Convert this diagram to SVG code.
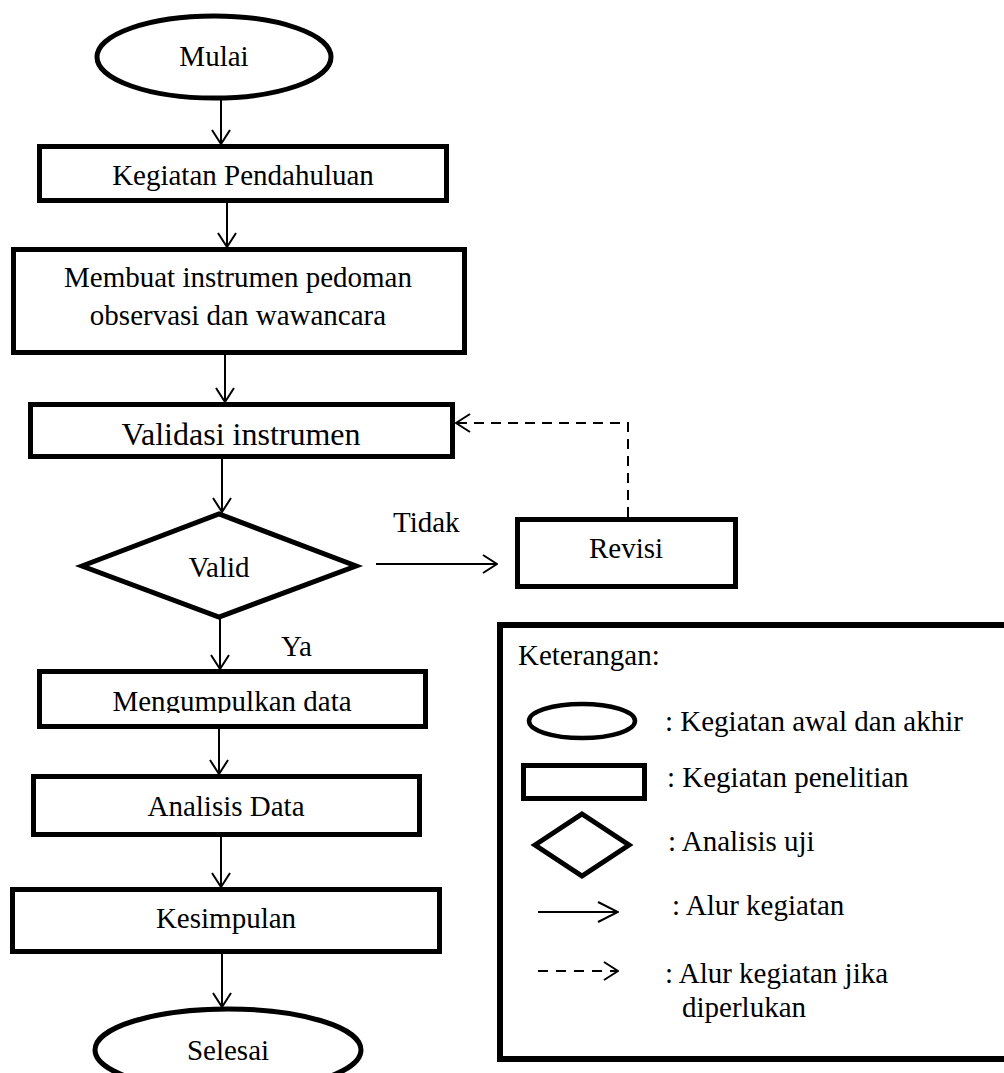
<svg xmlns="http://www.w3.org/2000/svg" width="1004" height="1073" viewBox="0 0 1004 1073">
<style>
text{font-family:"Liberation Serif","Times New Roman",serif;font-size:29px;fill:#000}
.c{text-anchor:middle}
.box{fill:#fff;stroke:#000;stroke-width:5}
.term{fill:#fff;stroke:#000;stroke-width:5}
.flow{fill:none;stroke:#000;stroke-width:2}
.dash{fill:none;stroke:#000;stroke-width:2;stroke-dasharray:10 7}
</style>
<defs>
<marker id="ah" viewBox="0 0 16 20" refX="15" refY="10" markerWidth="16" markerHeight="20" markerUnits="userSpaceOnUse" orient="auto">
<path d="M1,1 L15,10 L1,19" fill="none" stroke="#000" stroke-width="2"/>
</marker>
<marker id="ahl" viewBox="0 0 22 22" refX="21" refY="11" markerWidth="22" markerHeight="22" markerUnits="userSpaceOnUse" orient="auto">
<path d="M1,1 L21,11 L1,21" fill="none" stroke="#000" stroke-width="2"/>
</marker>
<clipPath id="clipM"><rect x="40" y="672" width="385" height="41"/></clipPath>
</defs>
<rect width="1004" height="1073" fill="#fff"/>

<g id="connectors">
<line class="flow" x1="221" y1="100" x2="221" y2="144" marker-end="url(#ah)"/>
<line class="flow" x1="227" y1="203" x2="227" y2="247" marker-end="url(#ah)"/>
<line class="flow" x1="225" y1="355" x2="225" y2="402" marker-end="url(#ah)"/>
<line class="flow" x1="222" y1="459" x2="222" y2="512" marker-end="url(#ah)"/>
<line class="flow" x1="220" y1="619" x2="220" y2="669" marker-end="url(#ah)"/>
<line class="flow" x1="219" y1="729" x2="219" y2="774" marker-end="url(#ah)"/>
<line class="flow" x1="221" y1="837" x2="221" y2="887" marker-end="url(#ah)"/>
<line class="flow" x1="222" y1="954" x2="222" y2="1007" marker-end="url(#ah)"/>
<line class="flow" x1="376" y1="564" x2="497" y2="564" marker-end="url(#ah)"/>
<path class="dash" d="M628,517 V423 H456" marker-end="url(#ah)"/>
<text x="393" y="532">Tidak</text>
<text x="281" y="656">Ya</text>
</g>

<g id="mulai">
<ellipse class="term" cx="214" cy="57" rx="117" ry="41"/>
<text class="c" x="214" y="66">Mulai</text>
</g>

<g id="pendahuluan">
<rect class="box" x="39.5" y="146.5" width="407" height="54"/>
<text class="c" x="243" y="185">Kegiatan Pendahuluan</text>
</g>

<g id="membuat">
<rect class="box" x="13.5" y="249.5" width="451" height="103"/>
<text class="c" x="238" y="287">Membuat instrumen pedoman</text>
<text class="c" x="238" y="325">observasi dan wawancara</text>
</g>

<g id="validasi">
<rect class="box" x="30.5" y="404.5" width="422" height="52"/>
<text class="c" x="241" y="445" style="font-size:32px">Validasi instrumen</text>
</g>

<g id="valid">
<polygon class="box" points="82,566 219,514 356,566 219,617"/>
<text class="c" x="219" y="577">Valid</text>
</g>

<g id="revisi">
<rect class="box" x="517.5" y="519.5" width="218" height="67"/>
<text class="c" x="626" y="558">Revisi</text>
</g>

<g id="mengumpulkan">
<rect class="box" x="39.5" y="671.5" width="386" height="55"/>
<text class="c" x="232" y="711" clip-path="url(#clipM)">Mengumpulkan data</text>
</g>

<g id="analisis">
<rect class="box" x="33.5" y="776.5" width="386" height="58"/>
<text class="c" x="226" y="816">Analisis Data</text>
</g>

<g id="kesimpulan">
<rect class="box" x="12.5" y="889.5" width="427" height="62"/>
<text class="c" x="226" y="928">Kesimpulan</text>
</g>

<g id="selesai">
<ellipse class="term" cx="228" cy="1050" rx="133" ry="41"/>
<text class="c" x="228" y="1060">Selesai</text>
</g>

<g id="legend">
<rect x="500" y="625" width="520" height="434" fill="#fff" stroke="#000" stroke-width="6"/>
<text x="518" y="665">Keterangan:</text>
<ellipse cx="582" cy="721" rx="53" ry="17" fill="#fff" stroke="#000" stroke-width="4.5"/>
<text x="665" y="731">: Kegiatan awal dan akhir</text>
<rect x="523.5" y="765.5" width="121" height="33" fill="#fff" stroke="#000" stroke-width="5"/>
<text x="667" y="787">: Kegiatan penelitian</text>
<polygon points="535,845 582,814 629,845 582,876" fill="#fff" stroke="#000" stroke-width="5"/>
<text x="668" y="851">: Analisis uji</text>
<line class="flow" x1="538" y1="912" x2="618" y2="912" marker-end="url(#ahl)"/>
<text x="672" y="915">: Alur kegiatan</text>
<line x1="538" y1="971" x2="618" y2="971" fill="none" stroke="#000" stroke-width="2" stroke-dasharray="10 8" marker-end="url(#ah)"/>
<text x="665" y="983">: Alur kegiatan jika</text>
<text x="682" y="1017">diperlukan</text>
</g>
</svg>
